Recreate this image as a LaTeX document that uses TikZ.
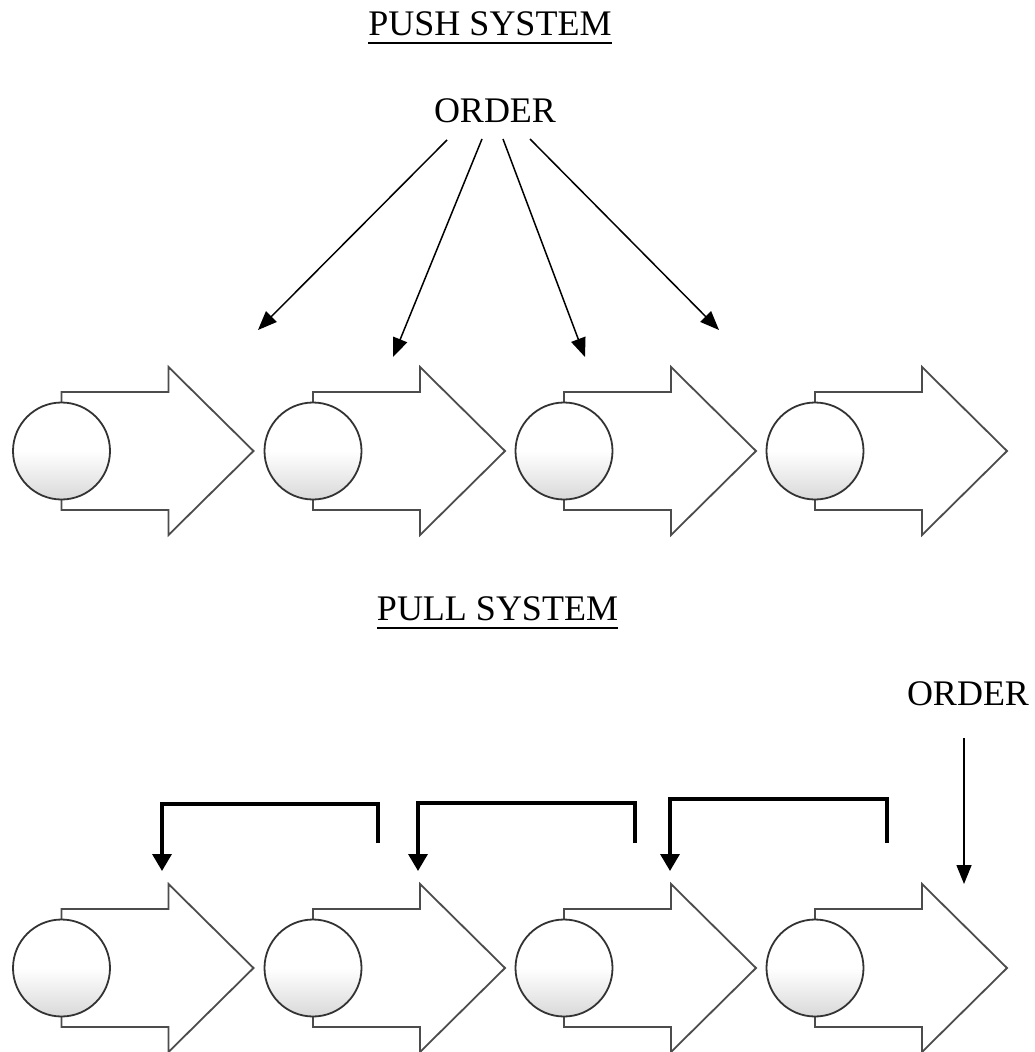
\documentclass[tikz,border=0pt]{standalone}
\usepackage{fontspec}
\setmainfont{Liberation Serif}
\usetikzlibrary{arrows.meta,calc}

\tikzset{
  unitline/.style={draw=black!70, line width=1.8pt, line join=miter},
  unitball/.style={circle, minimum size=97pt, inner sep=0pt, draw=black!80,
                   line width=1.8pt, top color=white, bottom color=black!15,
                   middle color=white},
  label/.style={font=\fontsize{36}{40}\selectfont, inner sep=0pt, anchor=base},
  pushline/.style={line width=1.5pt, -{Triangle[length=19pt,width=15pt]}},
  pullline/.style={line width=3.4pt, line cap=butt, line join=miter,
                   -{Triangle[length=17pt,width=19pt]}},
  orderline/.style={line width=1.5pt, -{Triangle[length=19pt,width=15pt]}},
  uline/.style={line width=2pt}
}

% one work station: a circle in front of a block arrow
\newcommand\flowunit[3]{% #1 name, #2 centre x, #3 centre y
  \draw[unitline] (#2,#3-48) -- (#2,#3-59) -- (#2+107,#3-59) -- (#2+107,#3-84)
     -- (#2+192,#3) -- (#2+107,#3+84) -- (#2+107,#3+59) -- (#2,#3+59) -- (#2,#3+48);
  \node[unitball] (#1) at (#2,#3) {};
}

\begin{document}
\begin{tikzpicture}[x=1pt,y=-1pt]
\useasboundingbox (0,0) rectangle (1035,1052);

% ---------- push system ----------
\node[label] (pushtitle) at (490,35) {PUSH SYSTEM};
\draw[uline] ($(pushtitle.base west)+(0,7.5)$) -- ($(pushtitle.base east)+(0,7.5)$);
\node[label] (order1) at (495,122) {ORDER};

\flowunit{a1}{61.5}{451}
\flowunit{a2}{313}{451}
\flowunit{a3}{564}{451}
\flowunit{a4}{815}{451}

\coordinate (s1) at (447,140);
\coordinate (s2) at (482,139);
\coordinate (s3) at (503,139);
\coordinate (s4) at (530,139);
\coordinate (t1) at (258,330);
\coordinate (t2) at (393,357);
\coordinate (t3) at (585,357);
\coordinate (t4) at (719,330);
\foreach \i in {1,...,4} \draw[pushline] (s\i) -- (t\i);

% ---------- pull system ----------
\node[label] (pulltitle) at (497.5,620) {PULL SYSTEM};
\draw[uline] ($(pulltitle.base west)+(0,8)$) -- ($(pulltitle.base east)+(0,8)$);
\node[label] (order2) at (968,705) {ORDER};

\flowunit{b1}{61.5}{968}
\flowunit{b2}{313}{968}
\flowunit{b3}{564}{968}
\flowunit{b4}{815}{968}

\coordinate (r1) at (378,843);
\coordinate (r2) at (635,843);
\coordinate (r3) at (887,843);
\coordinate (k1) at (162,871);
\coordinate (k2) at (418,871);
\coordinate (k3) at (670,871);
\draw[pullline] (r1) |- (162,804) -- (k1);
\draw[pullline] (r2) |- (418,803) -- (k2);
\draw[pullline] (r3) |- (670,799) -- (k3);

\coordinate (oq) at (964,738);
\coordinate (ot) at (964,884);
\draw[orderline] (oq) -- (ot);
\end{tikzpicture}
\end{document}
